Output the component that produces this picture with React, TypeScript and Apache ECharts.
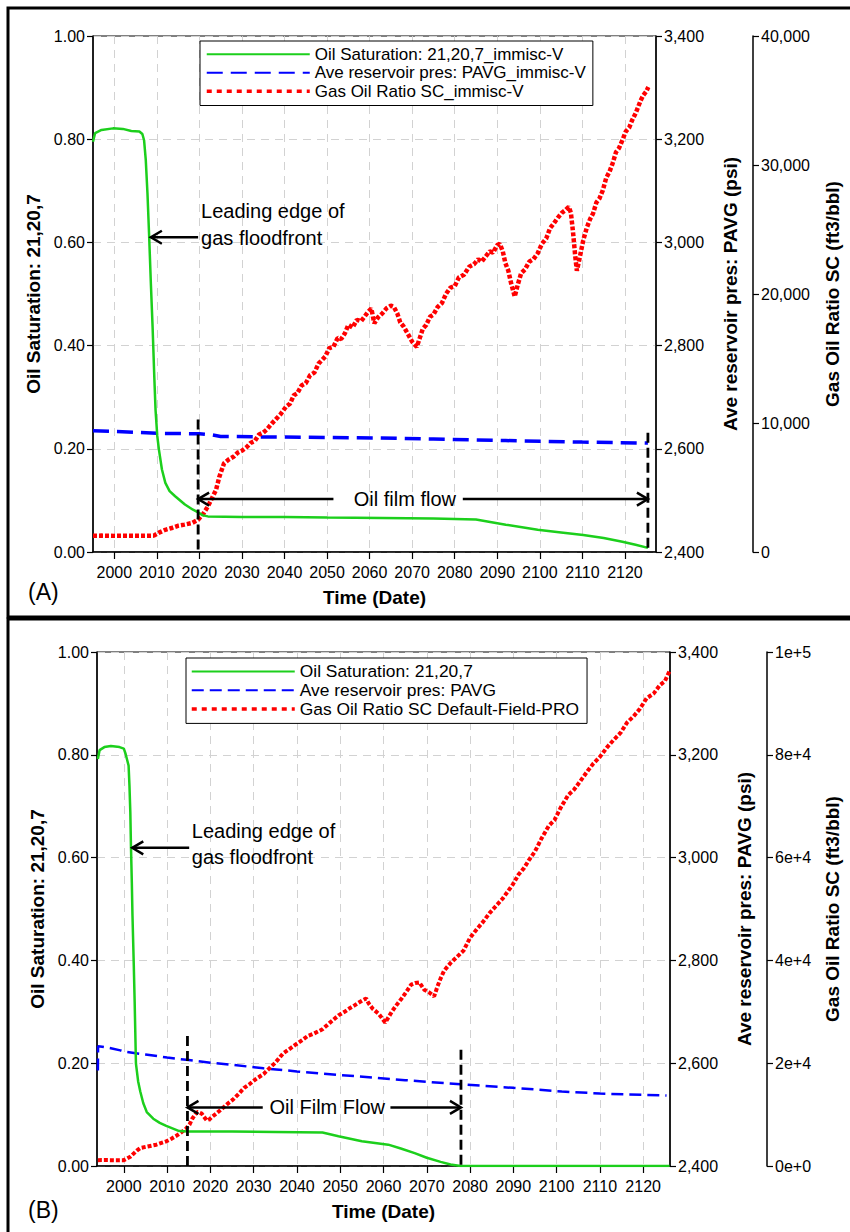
import React, { useEffect, useRef } from 'react';
import * as echarts from 'echarts';

const FONT = "'Liberation Sans', Arial, Helvetica, sans-serif";

// ---------- shared ticks ----------
const X_TICKS = [2000, 2010, 2020, 2030, 2040, 2050, 2060, 2070, 2080, 2090, 2100, 2110, 2120];

// ---------- Panel A ----------
const A_NAMES = [
  'Oil Saturation: 21,20,7_immisc-V',
  'Ave reservoir pres: PAVG_immisc-V',
  'Gas Oil Ratio SC_immisc-V',
];

// [year, oil saturation]
const A_OIL: [number, number][] = [
  [1995.0, 0.795], [1995.5, 0.812], [1997.0, 0.818], [1999.7, 0.821], [2002.0, 0.82],
  [2004.0, 0.816], [2005.9, 0.815], [2006.6, 0.81], [2007.0, 0.798], [2007.4, 0.76],
  [2007.8, 0.695], [2008.2, 0.611], [2008.6, 0.52], [2009.0, 0.437], [2009.4, 0.34],
  [2009.7, 0.275], [2010.1, 0.225], [2010.5, 0.198], [2011.2, 0.16], [2012.0, 0.134],
  [2013.0, 0.118], [2014.3, 0.108], [2016.6, 0.092], [2018.5, 0.082], [2019.7, 0.077],
  [2020.8, 0.071], [2022.0, 0.069], [2030.0, 0.068], [2040.0, 0.068], [2050.0, 0.067],
  [2063.0, 0.066], [2075.0, 0.065], [2085.0, 0.063], [2092.0, 0.053], [2099.5, 0.043],
  [2105.0, 0.038], [2110.2, 0.033], [2115.0, 0.027], [2119.4, 0.02], [2122.5, 0.014],
  [2125.4, 0.008],
];

// [year, psi]
const A_PRES: [number, number][] = [
  [1995.0, 2635], [2005.0, 2632], [2010.0, 2630], [2020.0, 2629], [2023.0, 2627],
  [2025.0, 2624], [2035.0, 2623], [2050.0, 2622], [2062.0, 2621], [2075.0, 2619],
  [2092.0, 2616], [2110.0, 2613], [2125.4, 2611],
];

// [year, ft3/bbl]
const A_GOR: [number, number][] = [
  [1995.0, 1260], [1997.0, 1270], [2000.0, 1250], [2003.0, 1260], [2006.0, 1250],
  [2009.3, 1270], [2010.5, 1500], [2012.0, 1720], [2013.5, 1860], [2015.1, 2040],
  [2016.5, 2120], [2018.2, 2240], [2019.7, 2500], [2021.0, 3000], [2022.0, 3530],
  [2023.0, 4200], [2023.9, 4800], [2024.7, 5840], [2025.8, 6880], [2026.8, 7150],
  [2028.1, 7400], [2029.0, 7700], [2030.0, 7850], [2031.2, 8160], [2032.0, 8450],
  [2033.0, 8600], [2034.0, 9100], [2035.0, 9250], [2035.8, 9480], [2037.0, 9950],
  [2038.0, 10300], [2039.0, 10650], [2040.4, 11280], [2041.3, 11500], [2042.2, 12150],
  [2043.0, 12300], [2044.0, 12900], [2045.0, 13080], [2046.0, 13700], [2047.0, 13900],
  [2048.0, 14600], [2049.6, 15160], [2050.5, 15800], [2051.5, 15900], [2052.5, 16600],
  [2053.3, 16500], [2054.2, 16960], [2055.0, 17600], [2056.0, 17400], [2057.0, 18000],
  [2058.0, 17900], [2058.8, 18240], [2059.6, 18600], [2060.4, 18880], [2061.1, 17720],
  [2062.0, 18200], [2063.0, 18500], [2064.0, 18900], [2065.0, 19100], [2065.7, 19000],
  [2066.5, 18500], [2067.2, 17800], [2068.0, 17480], [2069.0, 16900], [2070.0, 16300],
  [2071.1, 15900], [2071.8, 16600], [2072.5, 17300], [2073.3, 17600], [2074.2, 18240],
  [2075.0, 18400], [2076.0, 19000], [2077.0, 19300], [2078.0, 20040], [2079.0, 20500],
  [2080.0, 20600], [2081.0, 21300], [2082.2, 21500], [2083.4, 22120], [2084.5, 22300],
  [2085.5, 22700], [2086.3, 22500], [2087.2, 22880], [2088.2, 23300], [2089.0, 23200],
  [2090.0, 23800], [2090.6, 23900], [2091.3, 23300], [2091.9, 22400], [2092.6, 21800],
  [2093.2, 20900], [2094.1, 19800], [2094.8, 20700], [2095.6, 21600], [2096.5, 21900],
  [2097.5, 22500], [2098.5, 22700], [2099.5, 23160], [2100.5, 23900], [2101.5, 24300],
  [2102.4, 25100], [2103.3, 25480], [2104.2, 25900], [2105.2, 26300], [2106.0, 26500],
  [2106.8, 26760], [2107.3, 26300], [2107.8, 24800], [2108.3, 23000], [2108.7, 21800],
  [2109.3, 22700], [2110.2, 24160], [2111.0, 25100], [2111.8, 25800], [2112.5, 26240],
  [2113.3, 27100], [2114.0, 27400], [2114.8, 28040], [2115.6, 29000], [2116.4, 29500],
  [2117.1, 30120], [2117.9, 31000], [2118.6, 31300], [2119.4, 31920], [2120.2, 32600],
  [2121.0, 32900], [2121.7, 33480], [2122.5, 34000], [2123.1, 34500], [2123.7, 35000],
  [2124.3, 35400], [2125.0, 35700], [2125.5, 36040],
];

// ---------- Panel B ----------
const B_NAMES = [
  'Oil Saturation: 21,20,7',
  'Ave reservoir pres: PAVG',
  'Gas Oil Ratio SC Default-Field-PRO',
];

const B_OIL: [number, number][] = [
  [1994.0, 0.792], [1994.4, 0.809], [1995.5, 0.815], [1997.0, 0.817], [1999.0, 0.815],
  [2000.0, 0.812], [2000.4, 0.802], [2001.1, 0.779], [2001.3, 0.74], [2001.5, 0.688],
  [2001.65, 0.621], [2001.85, 0.55], [2002.0, 0.487], [2002.3, 0.39], [2002.5, 0.32],
  [2002.8, 0.199], [2003.3, 0.165], [2003.8, 0.145], [2004.5, 0.122], [2005.3, 0.105],
  [2006.8, 0.092], [2008.3, 0.084], [2009.8, 0.078], [2012.8, 0.068], [2015.0, 0.067],
  [2025.0, 0.067], [2035.0, 0.066], [2045.9, 0.065], [2049.6, 0.058], [2055.0, 0.048],
  [2061.1, 0.0415], [2064.0, 0.034], [2067.2, 0.025], [2070.0, 0.016], [2073.2, 0.008],
  [2075.5, 0.003], [2077.8, 0.0], [2126.1, 0.0],
];

const B_PRES: [number, number][] = [
  [1994.0, 2586], [1994.05, 2633], [1995.0, 2632], [1997.0, 2629], [1999.2, 2625],
  [2000.0, 2622.5], [2005.0, 2617], [2010.0, 2611], [2015.0, 2606], [2020.0, 2601],
  [2025.0, 2597], [2032.3, 2590], [2040.0, 2584], [2050.0, 2577], [2057.9, 2572],
  [2065.0, 2567], [2077.8, 2559], [2090.0, 2552], [2101.2, 2545], [2110.0, 2541],
  [2125.4, 2537],
];

const B_GOR: [number, number][] = [
  [1994.0, 1140], [1996.0, 1150], [1998.0, 1130], [2000.0, 1140], [2001.5, 1800],
  [2003.0, 3000], [2003.8, 3500], [2005.5, 3800], [2007.5, 4150], [2009.8, 4800],
  [2011.0, 5300], [2012.0, 5800], [2013.2, 6500], [2014.3, 7200], [2015.2, 8100],
  [2015.8, 9200], [2016.4, 9900], [2016.9, 10500], [2017.5, 10400], [2018.0, 10200],
  [2018.6, 9500], [2019.2, 8850], [2019.8, 9100], [2020.3, 9500], [2021.5, 10300],
  [2022.5, 11000], [2024.1, 12200], [2025.2, 12900], [2026.5, 14000], [2027.8, 15200],
  [2029.0, 15900], [2030.5, 16900], [2032.3, 17900], [2033.5, 18900], [2035.0, 20100],
  [2036.8, 21900], [2038.0, 22600], [2039.5, 23500], [2041.4, 24600], [2042.5, 25300],
  [2044.0, 25800], [2045.9, 26600], [2047.5, 27800], [2049.6, 29300], [2051.0, 30000],
  [2052.2, 30700], [2053.4, 31300], [2054.5, 31900], [2055.3, 32300], [2056.0, 32600],
  [2056.6, 31600], [2057.5, 30600], [2058.9, 29600], [2059.7, 28700], [2060.4, 27900],
  [2061.2, 29000], [2061.9, 30000], [2063.0, 31300], [2064.2, 32600], [2065.2, 33800],
  [2066.4, 35300], [2067.3, 35600], [2068.3, 35700], [2069.4, 34300], [2070.5, 33800],
  [2071.7, 33000], [2072.5, 35000], [2073.2, 36500], [2074.0, 38000], [2075.5, 39500],
  [2077.0, 40700], [2078.5, 41900], [2080.0, 44400], [2081.5, 46000], [2083.0, 47500],
  [2084.5, 49200], [2086.1, 50700], [2087.5, 52000], [2088.8, 53500], [2089.9, 54800],
  [2091.2, 56700], [2092.5, 58000], [2093.6, 59500], [2095.0, 61200], [2096.5, 63700],
  [2098.2, 66200], [2099.5, 67300], [2101.0, 69800], [2102.7, 72200], [2104.0, 73200],
  [2105.5, 74900], [2107.2, 76900], [2108.5, 78300], [2110.0, 79600], [2111.8, 81600],
  [2113.3, 83000], [2114.8, 84300], [2116.3, 86300], [2117.8, 87500], [2119.2, 88900],
  [2120.8, 91000], [2122.4, 91900], [2123.9, 93600], [2125.0, 94300], [2126.1, 96300],
];

// ---------- annotations (data units) ----------
const A_NOTE = {
  frontTip: [2008.6, 0.61], frontTail: [2019.7, 0.61],
  frontText: [2020.4, 0.66, 0.608],
  flowY: 0.1026, flowX: [2019.7, 2051.5, 2081.9, 2125.4], flowTextX: 2068.3,
  flowText: 'Oil film flow',
  vlines: [[2019.7, 0.257], [2125.4, 0.231]],
};
const B_NOTE = {
  frontTip: [2001.95, 0.619], frontTail: [2015.1, 0.619],
  frontText: [2015.7, 0.652, 0.601],
  flowY: 0.114, flowX: [2014.7, 2032.1, 2061.6, 2077.9], flowTextX: 2047.0,
  flowText: 'Oil Film Flow',
  vlines: [[2014.7, 0.253], [2077.9, 0.226]],
};

const GREEN = '#1ccf1c';
const BLUE = '#0000ff';
const RED = '#ff0000';

const axisText = { color: '#000', fontFamily: FONT, fontSize: 16 };
const nameText = { color: '#000', fontFamily: FONT, fontSize: 19, fontWeight: 'bold' as const };
const gridLine = { show: true, lineStyle: { color: '#d2d2d2', type: [8, 6], width: 1 } };
const blackLine = { show: true, onZero: false, lineStyle: { color: '#000', width: 1.5 } };
const blackTick = { show: true, length: 6, lineStyle: { color: '#000', width: 1.2 } };

function xAxisCfg(gridIndex: number, min: number, max: number) {
  return {
    type: 'value', gridIndex, min, max,
    axisLine: blackLine,
    axisTick: { ...blackTick, length: 7, customValues: X_TICKS },
    axisLabel: { ...axisText, margin: 12, customValues: X_TICKS, formatter: (v: number) => String(v) },
    splitLine: gridLine,
    name: 'Time (Date)', nameLocation: 'middle', nameGap: 36, nameTextStyle: nameText,
  };
}

function satAxis(gridIndex: number, nameGap: number) {
  return {
    type: 'value', gridIndex, position: 'left', min: 0, max: 1, interval: 0.2,
    axisLine: blackLine, axisTick: blackTick,
    axisLabel: { ...axisText, margin: 8, formatter: (v: number) => v.toFixed(2) },
    splitLine: gridLine,
    name: 'Oil Saturation: 21,20,7', nameLocation: 'middle', nameRotate: 90, nameGap, nameTextStyle: nameText,
  };
}

function presAxis(gridIndex: number, nameGap: number) {
  return {
    type: 'value', gridIndex, position: 'right', min: 2400, max: 3400, interval: 200,
    axisLine: blackLine, axisTick: blackTick,
    axisLabel: { ...axisText, margin: 8, formatter: (v: number) => v.toLocaleString('en-US') },
    splitLine: { show: false },
    name: 'Ave reservoir pres: PAVG (psi)', nameLocation: 'middle', nameRotate: 90, nameGap, nameTextStyle: nameText,
  };
}

function gorAxis(gridIndex: number, max: number, interval: number, fmt: (v: number) => string, nameGap: number) {
  return {
    type: 'value', gridIndex, position: 'right', offset: 97, min: 0, max, interval,
    axisLine: blackLine, axisTick: blackTick,
    axisLabel: { ...axisText, margin: 8, formatter: fmt },
    splitLine: { show: false },
    name: 'Gas Oil Ratio SC (ft3/bbl)', nameLocation: 'middle', nameRotate: 90, nameGap, nameTextStyle: nameText,
  };
}

function legendCfg(names: string[], redDash: number[], left: number, top: number, padding: number[], lh: number, fs: number) {
  return {
    data: [
      { name: names[0] },
      { name: names[1] },
      { name: names[2], lineStyle: { type: redDash, width: 3.5 } },
    ],
    orient: 'vertical', left, top, itemWidth: 103, itemHeight: 10, itemGap: 0,
    padding, borderColor: '#000', borderWidth: 1, backgroundColor: '#fff', selectedMode: false,
    itemStyle: { opacity: 0, borderWidth: 0 },
    textStyle: { color: '#000', fontFamily: FONT, fontSize: fs, lineHeight: lh },
  };
}

function lineSeries(name: string, xi: number, yi: number, data: [number, number][], color: string, width: number, type: any, z: number) {
  return {
    name, type: 'line', xAxisIndex: xi, yAxisIndex: yi, data, symbol: 'none', color,
    lineStyle: { color, width, type, cap: 'butt' }, z, silent: true,
  };
}

function buildOption() {
  return {
    animation: false,
    backgroundColor: '#fff',
    grid: [
      { left: 93, top: 36, width: 574, height: 516, show: true, borderColor: '#000', borderWidth: 1, backgroundColor: 'transparent' },
      { left: 97, top: 652, width: 584, height: 514, show: true, borderColor: '#000', borderWidth: 1, backgroundColor: 'transparent' },
    ],
    xAxis: [xAxisCfg(0, 1995, 2127.3), xAxisCfg(1, 1993.8, 2126.2)],
    yAxis: [
      satAxis(0, 48),
      presAxis(0, 65),
      gorAxis(0, 40000, 10000, (v) => v.toLocaleString('en-US'), 70),
      satAxis(1, 50),
      presAxis(1, 65),
      gorAxis(1, 100000, 20000, (v) => v.toExponential(0), 56),
    ],
    legend: [
      legendCfg(A_NAMES, [5, 5], 200, 41, [4, 7, 5, 5], 18.5, 17),
      legendCfg(B_NAMES, [5, 5], 186, 658, [4, 8, 5, 4], 18.8, 17.4),
    ],
    series: [
      lineSeries(A_NAMES[0], 0, 0, A_OIL, GREEN, 2.5, 'solid', 4),
      lineSeries(A_NAMES[1], 0, 1, A_PRES, BLUE, 3.5, [16, 8], 3),
      lineSeries(A_NAMES[2], 0, 2, A_GOR, RED, 4.5, [4, 2], 3),
      lineSeries(B_NAMES[0], 1, 3, B_OIL, GREEN, 2.5, 'solid', 4),
      lineSeries(B_NAMES[1], 1, 4, B_PRES, BLUE, 2.5, [12, 6], 3),
      lineSeries(B_NAMES[2], 1, 5, B_GOR, RED, 4, [4, 2], 3),
    ],
  };
}

function buildGraphics(chart: any) {
  const els: any[] = [];
  const black = '#000';
  // outer frames
  els.push({ type: 'rect', z: 60, shape: { x: 8, y: 8, width: 860, height: 609 }, style: { fill: 'none', stroke: black, lineWidth: 3 } });
  els.push({ type: 'rect', z: 60, shape: { x: 8, y: 619, width: 860, height: 640 }, style: { fill: 'none', stroke: black, lineWidth: 3 } });
  els.push({ type: 'text', z: 60, x: 28, y: 592, style: { text: '(A)', fontSize: 23, fontFamily: FONT, fill: black, align: 'left', verticalAlign: 'middle' } });
  els.push({ type: 'text', z: 60, x: 28, y: 1210, style: { text: '(B)', fontSize: 23, fontFamily: FONT, fill: black, align: 'left', verticalAlign: 'middle' } });

  const notes = [
    { xi: 0, yi: 0, n: A_NOTE },
    { xi: 1, yi: 3, n: B_NOTE },
  ];
  notes.forEach(({ xi, yi, n }) => {
    const px = (p: number[]) => chart.convertToPixel({ xAxisIndex: xi, yAxisIndex: yi }, p) as number[];
    const seg = (a: number[], b: number[], dash?: number[], w = 2.5) => {
      els.push({ type: 'line', z: 50, silent: true, shape: { x1: a[0], y1: a[1], x2: b[0], y2: b[1] }, style: { stroke: black, lineWidth: w, lineDash: dash || null } });
    };
    const head = (tip: number[], dir: number) => {
      els.push({ type: 'polyline', z: 50, silent: true, shape: { points: [[tip[0] + dir * 11, tip[1] - 6.5], [tip[0], tip[1]], [tip[0] + dir * 11, tip[1] + 6.5]] }, style: { stroke: black, lineWidth: 2.5, fill: 'none' } });
    };
    n.vlines.forEach(([x, y0]) => seg(px([x, y0]), px([x, 0]), [10, 5], 2.8));
    const tip = px(n.frontTip), tail = px(n.frontTail);
    seg(tail, tip);
    head(tip, 1);
    const t1 = px([n.frontText[0], n.frontText[1]]);
    const t2 = px([n.frontText[0], n.frontText[2]]);
    els.push({ type: 'text', z: 50, x: t1[0], y: t1[1], style: { text: 'Leading edge of', fontSize: 20, fontFamily: FONT, fill: black, align: 'left', verticalAlign: 'middle' } });
    els.push({ type: 'text', z: 50, x: t2[0], y: t2[1], style: { text: 'gas floodfront', fontSize: 20, fontFamily: FONT, fill: black, align: 'left', verticalAlign: 'middle' } });
    const p0 = px([n.flowX[0], n.flowY]);
    const p1 = px([n.flowX[1], n.flowY]);
    const p2 = px([n.flowX[2], n.flowY]);
    const p3 = px([n.flowX[3], n.flowY]);
    seg(p0, p1);
    seg(p2, p3);
    head(p0, 1);
    head(p3, -1);
    const tc = px([n.flowTextX, n.flowY]);
    els.push({ type: 'text', z: 50, x: tc[0], y: tc[1], style: { text: n.flowText, fontSize: 20, fontFamily: FONT, fill: black, align: 'center', verticalAlign: 'middle' } });
  });
  return els;
}

export default function App() {
  const ref = useRef<HTMLDivElement>(null);
  useEffect(() => {
    document.body.style.margin = '0';
    const chart = echarts.init(ref.current!, null, { renderer: 'svg' });
    chart.setOption(buildOption() as any);
    chart.setOption({ graphic: buildGraphics(chart) } as any);
    return () => chart.dispose();
  }, []);
  return <div ref={ref} style={{ width: 850, height: 1232 }} />;
}
